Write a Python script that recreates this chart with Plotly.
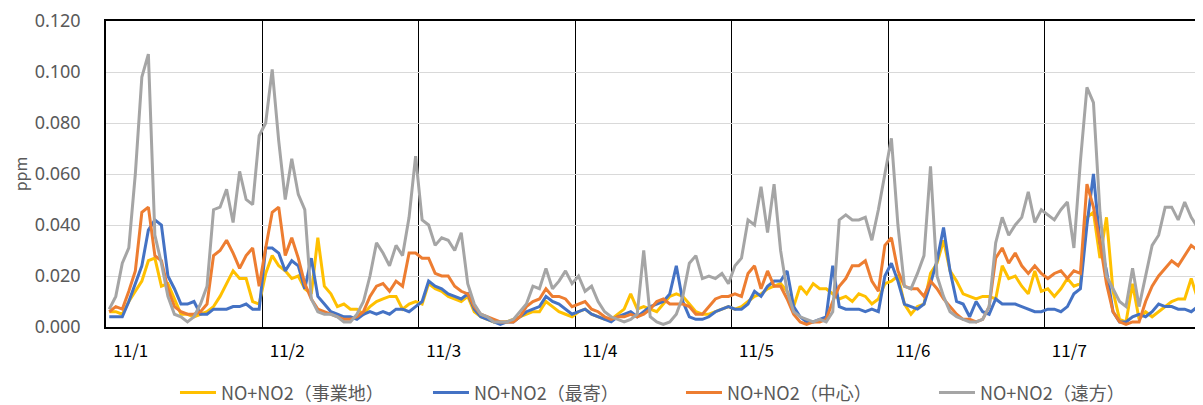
import plotly.graph_objects as go

# hourly NO+NO2 concentrations (ppm), 24 values per day, 11/1 - 11/7
days = ["11/1", "11/2", "11/3", "11/4", "11/5", "11/6", "11/7"]
hours_per_day = 24

jigyochi = [
    0.006, 0.006, 0.005, 0.010, 0.014, 0.018, 0.026, 0.027, 0.016, 0.017, 0.011, 0.005,
    0.005, 0.004, 0.005, 0.006, 0.008, 0.012, 0.017, 0.022, 0.019, 0.019, 0.010, 0.009,
    0.021, 0.028, 0.024, 0.022, 0.019, 0.020, 0.015, 0.013, 0.035, 0.016, 0.013, 0.008,
    0.009, 0.007, 0.007, 0.005, 0.008, 0.010, 0.011, 0.012, 0.012, 0.007, 0.009, 0.010,
    0.009, 0.017, 0.015, 0.014, 0.012, 0.011, 0.010, 0.012, 0.006, 0.004, 0.003, 0.002,
    0.002, 0.002, 0.003, 0.004, 0.005, 0.006, 0.006, 0.010, 0.008, 0.006, 0.005, 0.004,
    0.006, 0.007, 0.005, 0.004, 0.003, 0.003, 0.005, 0.007, 0.013, 0.007, 0.008, 0.007,
    0.006, 0.009, 0.012, 0.013, 0.012, 0.009, 0.006, 0.005, 0.005, 0.006, 0.007, 0.008,
    0.007, 0.008, 0.010, 0.012, 0.013, 0.015, 0.016, 0.017, 0.014, 0.008, 0.016, 0.013,
    0.017, 0.015, 0.015, 0.013, 0.011, 0.012, 0.010, 0.013, 0.012, 0.009, 0.011, 0.017,
    0.018, 0.020, 0.009, 0.005, 0.008, 0.009, 0.021, 0.025, 0.034, 0.022, 0.018, 0.013,
    0.012, 0.011, 0.012, 0.012, 0.011, 0.024, 0.019, 0.020, 0.016, 0.013, 0.022, 0.014,
    0.015, 0.012, 0.015, 0.019, 0.016, 0.017, 0.043, 0.045, 0.027, 0.043, 0.014, 0.003,
    0.002, 0.017, 0.003, 0.006, 0.004, 0.006, 0.008, 0.010, 0.011, 0.011, 0.019, 0.011,
]
moyori = [
    0.004, 0.004, 0.004, 0.010, 0.017, 0.024, 0.038, 0.042, 0.040, 0.020, 0.015, 0.009,
    0.009, 0.010, 0.005, 0.005, 0.007, 0.007, 0.007, 0.008, 0.008, 0.009, 0.007, 0.007,
    0.031, 0.031, 0.029, 0.022, 0.026, 0.024, 0.015, 0.027, 0.012, 0.009, 0.006, 0.005,
    0.004, 0.004, 0.003, 0.005, 0.006, 0.005, 0.006, 0.005, 0.007, 0.007, 0.006, 0.008,
    0.010, 0.018, 0.016, 0.015, 0.013, 0.012, 0.011, 0.013, 0.007, 0.004, 0.003, 0.002,
    0.001, 0.002, 0.002, 0.004, 0.006, 0.007, 0.008, 0.012, 0.010, 0.009, 0.007, 0.005,
    0.006, 0.007, 0.005, 0.004, 0.003, 0.002, 0.004, 0.005, 0.006, 0.004, 0.006, 0.008,
    0.009, 0.010, 0.013, 0.024, 0.010, 0.004, 0.003, 0.003, 0.004, 0.006, 0.007, 0.008,
    0.007, 0.007, 0.009, 0.014, 0.012, 0.016, 0.018, 0.018, 0.022, 0.008, 0.004, 0.002,
    0.002, 0.003, 0.004, 0.024, 0.008, 0.007, 0.007, 0.007, 0.006, 0.007, 0.006, 0.020,
    0.025, 0.018, 0.009, 0.008, 0.007, 0.009, 0.017, 0.026, 0.039, 0.022, 0.010, 0.009,
    0.004, 0.010, 0.006, 0.005, 0.011, 0.009, 0.009, 0.009, 0.008, 0.007, 0.006, 0.006,
    0.007, 0.007, 0.006, 0.008, 0.013, 0.015, 0.040, 0.060, 0.033, 0.022, 0.006, 0.002,
    0.002, 0.004, 0.005, 0.004, 0.006, 0.009, 0.008, 0.008, 0.007, 0.007, 0.006, 0.008,
]
chushin = [
    0.006, 0.008, 0.007, 0.014, 0.022, 0.045, 0.047, 0.028, 0.026, 0.015, 0.008, 0.006,
    0.005, 0.005, 0.006, 0.009, 0.028, 0.030, 0.034, 0.029, 0.023, 0.028, 0.031, 0.016,
    0.031, 0.045, 0.047, 0.028, 0.035, 0.027, 0.017, 0.011, 0.007, 0.006, 0.005, 0.004,
    0.003, 0.003, 0.004, 0.006, 0.012, 0.016, 0.017, 0.014, 0.018, 0.016, 0.029, 0.029,
    0.027, 0.027, 0.021, 0.020, 0.020, 0.016, 0.014, 0.013, 0.008, 0.005, 0.004, 0.003,
    0.002, 0.002, 0.002, 0.004, 0.008, 0.010, 0.011, 0.015, 0.012, 0.012, 0.011, 0.008,
    0.009, 0.010, 0.007, 0.006, 0.004, 0.003, 0.004, 0.004, 0.005, 0.004, 0.005, 0.007,
    0.010, 0.011, 0.009, 0.009, 0.009, 0.008, 0.005, 0.005, 0.008, 0.011, 0.012, 0.012,
    0.013, 0.012, 0.021, 0.024, 0.015, 0.022, 0.016, 0.016, 0.011, 0.005, 0.002, 0.001,
    0.002, 0.002, 0.003, 0.010, 0.016, 0.019, 0.024, 0.024, 0.026, 0.018, 0.014, 0.032,
    0.035, 0.022, 0.016, 0.015, 0.015, 0.012, 0.018, 0.015, 0.011, 0.008, 0.005, 0.003,
    0.003, 0.002, 0.003, 0.008, 0.027, 0.031, 0.025, 0.029, 0.024, 0.021, 0.024, 0.021,
    0.019, 0.021, 0.022, 0.019, 0.022, 0.021, 0.056, 0.047, 0.033, 0.017, 0.006, 0.002,
    0.001, 0.002, 0.002, 0.010, 0.016, 0.020, 0.023, 0.026, 0.024, 0.028, 0.032, 0.030,
]
enpo = [
    0.007, 0.012, 0.025, 0.031, 0.060, 0.098, 0.107, 0.036, 0.025, 0.012, 0.005, 0.004,
    0.002, 0.004, 0.009, 0.016, 0.046, 0.047, 0.054, 0.041, 0.061, 0.050, 0.048, 0.075,
    0.080, 0.101, 0.073, 0.050, 0.066, 0.052, 0.046, 0.011, 0.006, 0.005, 0.005, 0.004,
    0.002, 0.002, 0.005, 0.010, 0.020, 0.033, 0.029, 0.024, 0.032, 0.028, 0.043, 0.067,
    0.042, 0.040, 0.032, 0.035, 0.034, 0.030, 0.037, 0.017, 0.009, 0.005, 0.004, 0.002,
    0.002, 0.002, 0.003, 0.006, 0.009, 0.016, 0.015, 0.023, 0.015, 0.018, 0.022, 0.017,
    0.020, 0.014, 0.016, 0.010, 0.006, 0.004, 0.003, 0.002, 0.003, 0.005, 0.030, 0.004,
    0.002, 0.001, 0.002, 0.005, 0.012, 0.025, 0.028, 0.019, 0.020, 0.019, 0.021, 0.017,
    0.024, 0.027, 0.042, 0.040, 0.055, 0.037, 0.056, 0.030, 0.014, 0.006, 0.004, 0.003,
    0.002, 0.003, 0.002, 0.006, 0.042, 0.044, 0.042, 0.042, 0.043, 0.034, 0.046, 0.060,
    0.074, 0.040, 0.016, 0.015, 0.021, 0.028, 0.063, 0.020, 0.012, 0.006, 0.004, 0.003,
    0.002, 0.002, 0.003, 0.008, 0.033, 0.043, 0.036, 0.040, 0.043, 0.053, 0.041, 0.046,
    0.044, 0.042, 0.046, 0.049, 0.031, 0.065, 0.094, 0.088, 0.045, 0.020, 0.015, 0.010,
    0.008, 0.023, 0.008, 0.020, 0.032, 0.036, 0.047, 0.047, 0.042, 0.049, 0.043, 0.039,
]

series = [
    ("NO+NO2（事業地）", jigyochi, "#FFC000"),
    ("NO+NO2（最寄）", moyori, "#4472C4"),
    ("NO+NO2（中心）", chushin, "#ED7D31"),
    ("NO+NO2（遠方）", enpo, "#A5A5A5"),
]

hours = list(range(len(days) * hours_per_day))

fig = go.Figure()
for name, vals, color in series:
    fig.add_trace(go.Scatter(
        x=hours, y=vals, name=name, mode="lines",
        line=dict(color=color, width=3),
    ))

font_family = "Noto Sans CJK JP, Noto Sans, sans-serif"

# page body has an 8px margin, so the figure is sized to fit inside the window
fig.update_layout(
    width=1195, height=397,
    margin=dict(l=98, r=2, t=13, b=78, autoexpand=False),
    plot_bgcolor="white", paper_bgcolor="white",
    font=dict(family=font_family, color="#595959"),
    showlegend=True,
    legend=dict(
        orientation="h", x=0.063, xanchor="left", y=-0.215, yanchor="middle",
        font=dict(size=18, color="#595959"),
        entrywidth=202, entrywidthmode="pixels",
        itemwidth=36,
    ),
)

fig.update_xaxes(
    range=[-0.5, len(hours) - 0.5],
    tickmode="array",
    tickvals=[d * hours_per_day + 3.3 for d in range(len(days))],
    ticktext=days,
    ticks="", showgrid=False, automargin=False,
    tickfont=dict(size=17, color="black"),
    ticklabelstandoff=8,
    showline=True, linecolor="black", linewidth=1.5, mirror=True,
    minor=dict(tick0=-0.5, dtick=hours_per_day, showgrid=True,
               gridcolor="black", gridwidth=1.2, ticks=""),
    zeroline=False,
)
fig.update_yaxes(
    range=[0, 0.12], dtick=0.02, tickformat=".3f",
    showgrid=True, gridcolor="#D9D9D9", gridwidth=1, automargin=False,
    tickfont=dict(family="Noto Sans", size=18, color="#595959"),
    ticklabelstandoff=20, ticklabeloverflow="allow",
    title=dict(text="ppm", font=dict(size=16, color="#595959"), standoff=12),
    showline=True, linecolor="black", linewidth=1.5, mirror=True,
    zeroline=False,
)

fig.write_html("out.html")
